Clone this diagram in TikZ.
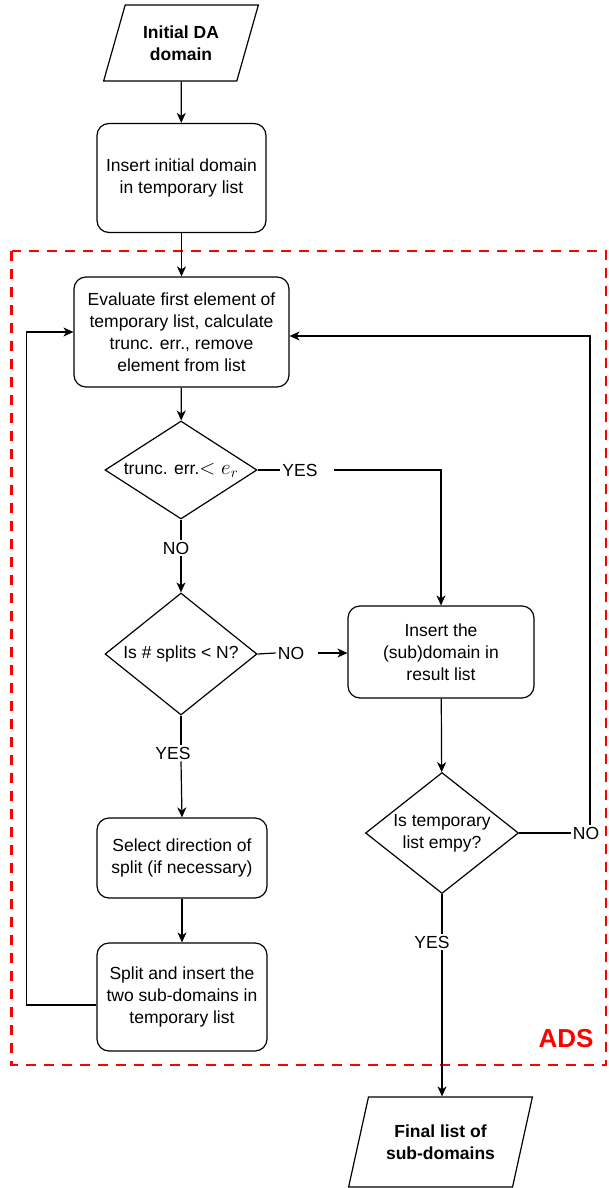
\RequirePackage{fix-cm}
\documentclass[tikz,border=0pt]{standalone}
\usepackage{fontspec}
\setmainfont{Liberation Sans}
\usepackage{amsmath}
\usetikzlibrary{shapes.geometric,arrows.meta}
\newcommand{\flowfont}{\fontsize{17.5}{22}\selectfont}
\tikzstyle{procbox} = [draw=black, fill=white, line width=1.2pt,
    rectangle, rounded corners=12pt, align=center, inner sep=2pt]
\tikzstyle{decision} = [draw=black, fill=white, line width=1.2pt,
    diamond, inner sep=0pt]
\tikzstyle{iobox} = [draw=black, fill=white, line width=1.2pt, trapezium,
    trapezium left angle=69, trapezium right angle=111,
    trapezium stretches=true, align=center, font=\flowfont\bfseries]
\tikzstyle{flowline} = [draw=black, line width=1.2pt]
\tikzstyle{flowarrow} = [flowline, -{Stealth[length=10pt, width=9pt, inset=3pt]}]
\tikzstyle{branchlabel} = [inner sep=2pt]
\tikzstyle{adsframe} = [draw=red, line width=2.6pt, dash pattern=on 10pt off 8pt]

\begin{document}
\begin{tikzpicture}[x=1pt, y=-1pt, font=\flowfont]
    \useasboundingbox (0,0) rectangle (609,1188);
    \fill[white] (0,0) rectangle (609,1188);

    \draw[adsframe] (11.5,251) rectangle (606,1065);
    \node[text=red, font=\fontsize{26}{30}\selectfont\bfseries] (adslabel) at (566,1039) {ADS};

    % main column
    \node[iobox, minimum width=155, minimum height=76] (init) at (181,43) {Initial DA\\domain};
    \node[procbox, minimum width=169, minimum height=109] (ins) at (181.5,178)
        {Insert initial domain\\in temporary list};
    \node[procbox, minimum width=215, minimum height=110] (eval) at (181.5,332)
        {Evaluate first element of\\temporary list, calculate\\trunc. err., remove\\element from list};
    \node[decision, minimum width=152, minimum height=98] (trunc) at (181,470) {};
    \node (trunctxt) at (trunc.center)
        {trunc. err.{\fontsize{21}{22}\selectfont$<e_r$}};
    \node[decision, minimum width=152, minimum height=122] (splits) at (181,654) {};
    \node (splitstxt) at (splits.center) {Is \# splits < N?};
    \node[procbox, minimum width=170, minimum height=80] (sel) at (182,858)
        {Select direction of\\split (if necessary)};
    \node[procbox, minimum width=170, minimum height=108] (spl) at (182,997)
        {Split and insert the\\two sub-domains in\\temporary list};

    % result column
    \node[procbox, minimum width=186, minimum height=92] (res) at (441,652)
        {Insert the\\(sub)domain in\\result list};
    \node[decision, minimum width=153, minimum height=121] (empty) at (442,833) {};
    \node[align=center] (emptytxt) at (empty.center) {Is temporary\\list empy?};
    \node[iobox, minimum width=184, minimum height=90] (fin) at (440.5,1142) {Final list of\\sub-domains};

    % branch labels
    \node[branchlabel] (yes1) at (300,470) {YES};
    \node[branchlabel] (no1) at (176,548) {NO};
    \node[branchlabel] (no2) at (291,653) {NO};
    \node[branchlabel] (yes2) at (173,753) {YES};
    \node[branchlabel] (no3) at (586,833) {NO};
    \node[branchlabel] (yes3) at (432,942) {YES};

    \draw[flowarrow] (init) -- (ins);
    \draw[flowarrow] (ins) -- (eval);
    \draw[flowarrow] (eval) -- (trunc);
    \draw[flowline] (trunc.east) -- (yes1.west);
    \draw[flowarrow] ([xshift=14]yes1.east) -| (res.north);
    \draw[flowline] (trunc.south) -- (trunc.south |- no1.north);
    \draw[flowarrow] (trunc.south |- no1.south) -- (splits.north);
    \draw[flowline] (splits.east) -- (no2.west);
    \draw[flowarrow] ([xshift=12]no2.east) -- (no2.east -| res.west);
    \draw[flowline] (splits.south) -- (splits.south |- yes2.north);
    \draw[flowarrow] (splits.south |- yes2.south) -- (sel.north);
    \draw[flowarrow] (sel) -- (spl);
    \draw[flowarrow] ([yshift=-8]spl.west) -- ++(-70,0) |- (eval.west);
    \draw[flowarrow] (res) -- (empty);
    \draw[flowline] (empty.east) -- (no3.west);
    \draw[flowarrow] ([xshift=4]no3.north) |- ([yshift=-4]eval.east);
    \draw[flowline] (empty.south) -- (empty.south |- yes3.north);
    \draw[flowarrow] (empty.south |- yes3.south) -- (empty.south |- fin.north);
\end{tikzpicture}
\end{document}
